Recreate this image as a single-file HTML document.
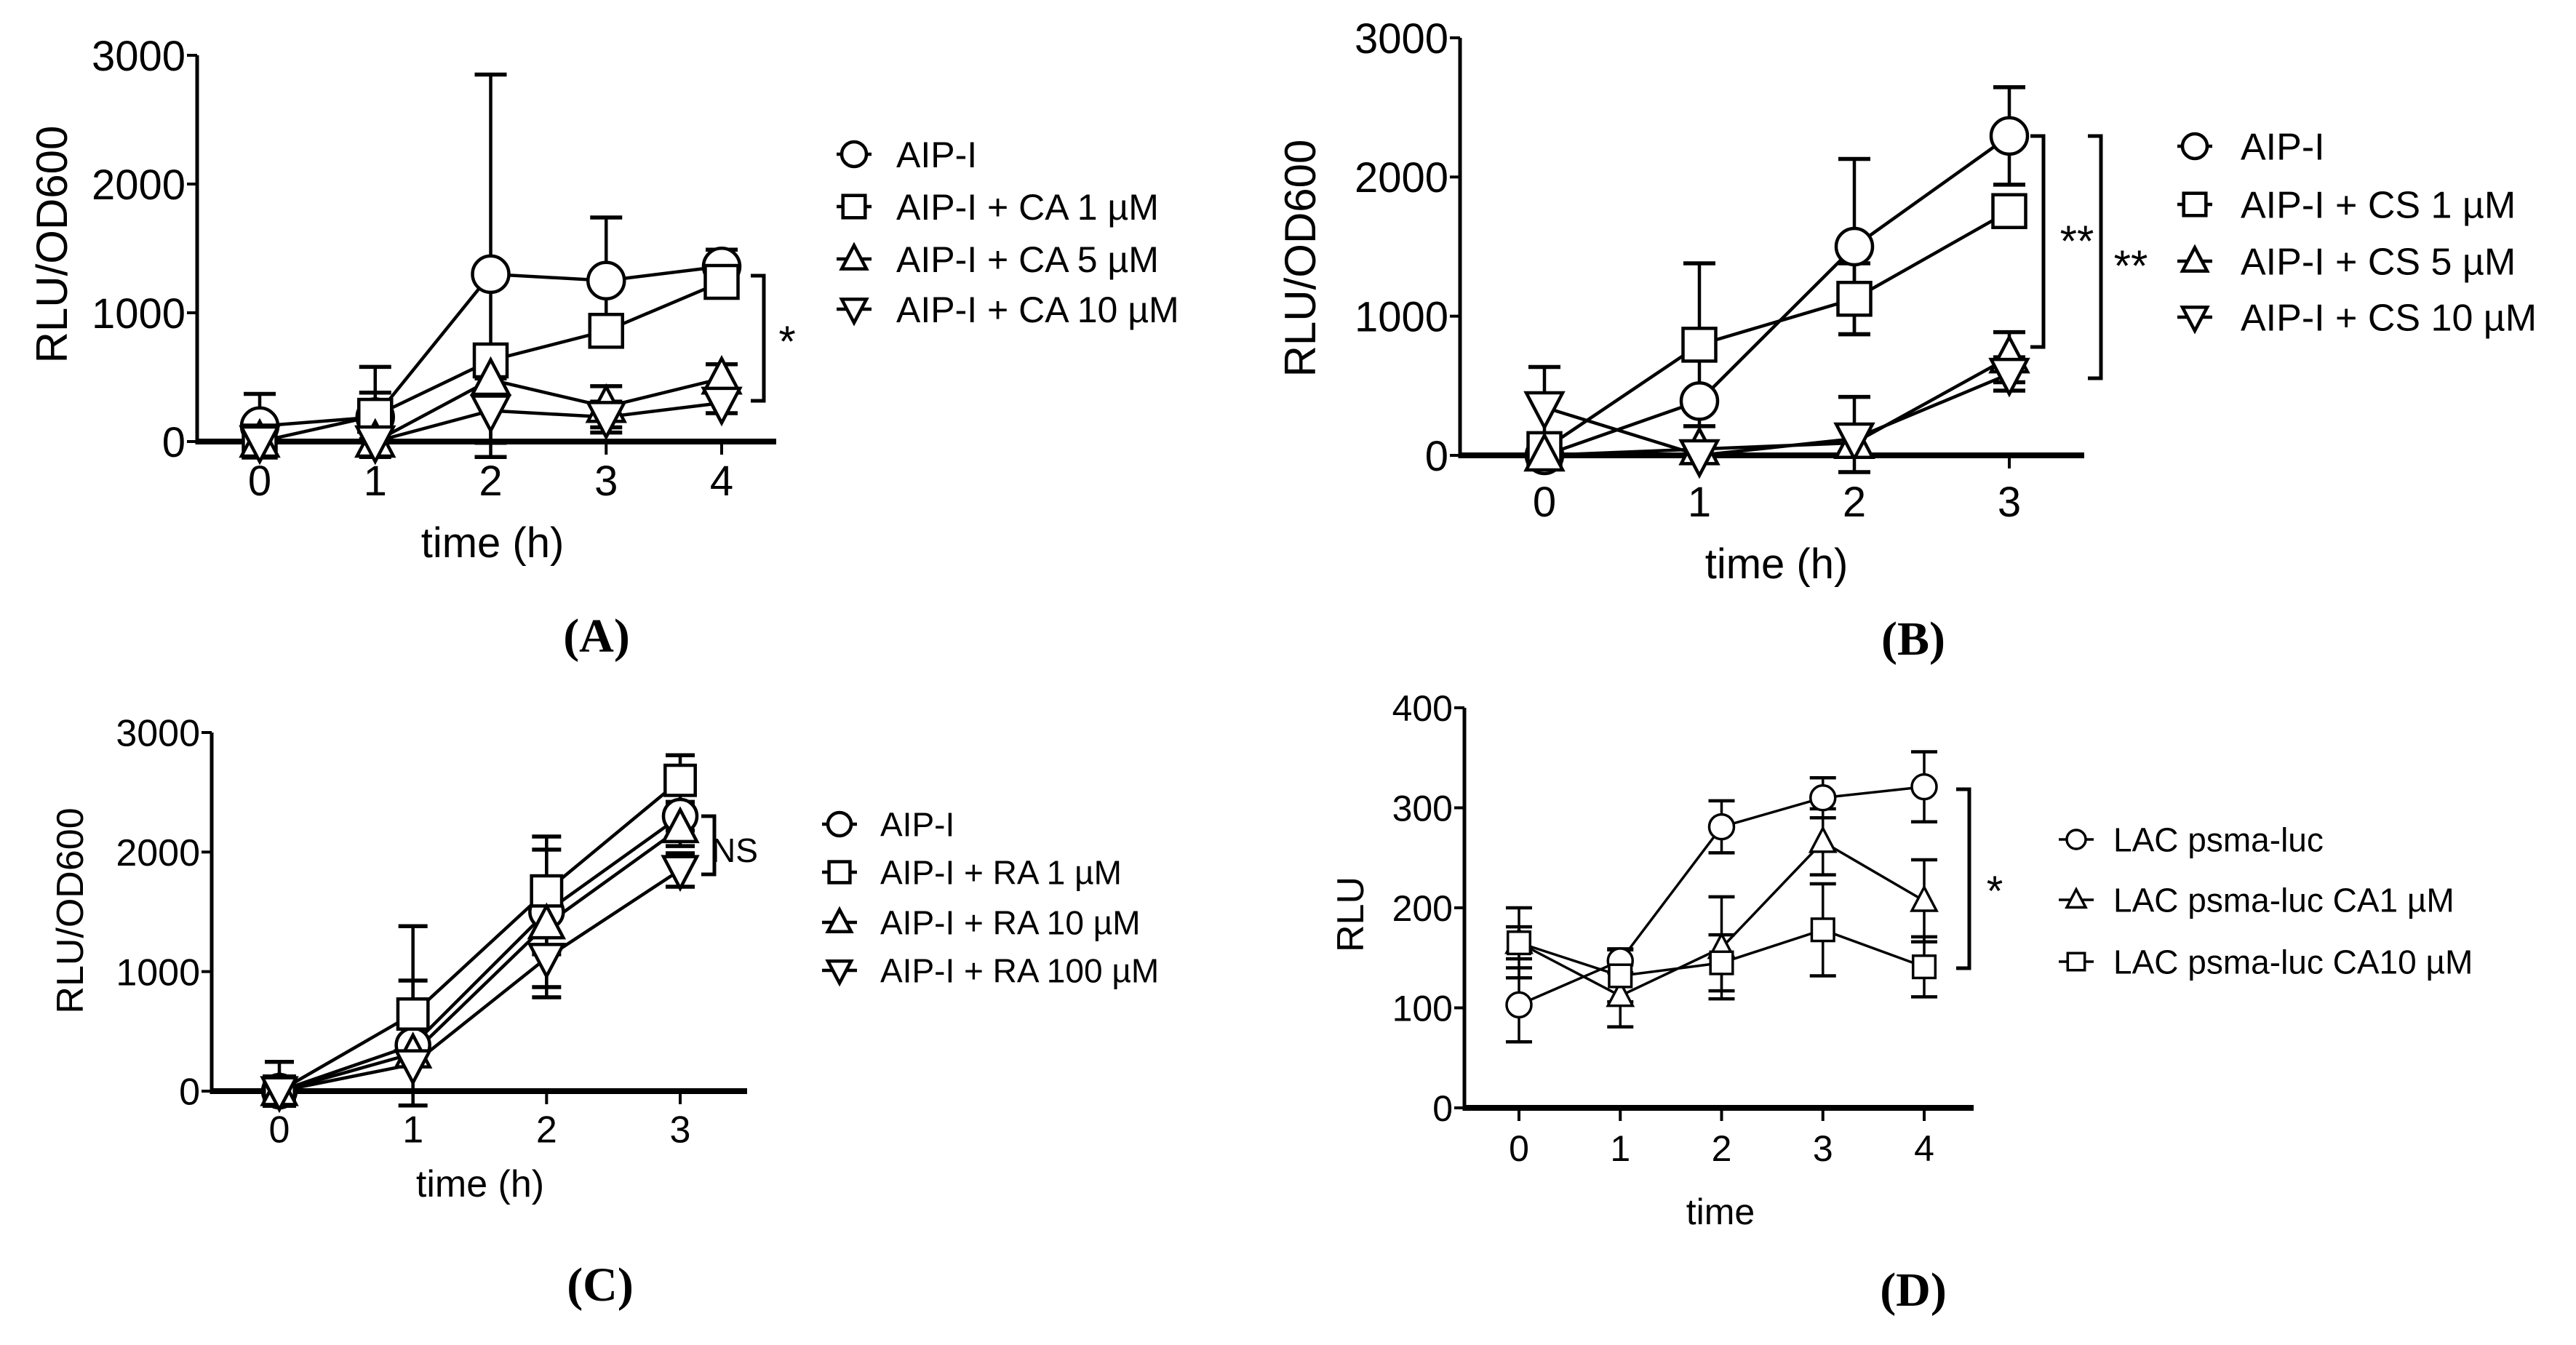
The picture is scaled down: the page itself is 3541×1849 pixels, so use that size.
<!DOCTYPE html>
<html><head><meta charset="utf-8"><style>
html,body{margin:0;padding:0;background:#fff;}
svg{display:block;}
text{font-family:"Liberation Sans",sans-serif;fill:#000;}
</style></head><body>
<svg id="fig" width="3541" height="1849" viewBox="0 0 3541 1849" xmlns="http://www.w3.org/2000/svg"></svg>
<script>
// Panel A data
const aTimes=[0,1,2,3,4];
const aYTicks=[0,1000,2000,3000];
const aNames=["AIP-I","AIP-I + CA 1 µM","AIP-I + CA 5 µM","AIP-I + CA 10 µM"];
const aCircle=[120,190,1300,1250,1360];
const aSquare=[0,200,630,860,1240];
const aTriUp=[0,0,480,270,490];
const aTriDown=[0,0,240,190,300];
const aErrCircle=[250,390,1550,490,130];
const aErrSquare=[0,180,120,120,60];
const aErrTriUp=[0,0,0,160,110];
const aErrTriDown=[0,0,250,120,80];
// Panel B data
const bTimes=[0,1,2,3];
const bYTicks=[0,1000,2000,3000];
const bNames=["AIP-I","AIP-I + CS 1 µM","AIP-I + CS 5 µM","AIP-I + CS 10 µM"];
const bCircle=[0,390,1500,2295];
const bSquare=[45,795,1125,1755];
const bTriUp=[0,45,90,705];
const bTriDown=[345,0,120,585];
const bErrCircle=[0,0,630,350];
const bErrSquare=[40,585,255,0];
const bErrTriUp=[0,0,330,180];
const bErrTriDown=[290,0,0,120];
// Panel C data
const cTimes=[0,1,2,3];
const cYTicks=[0,1000,2000,3000];
const cNames=["AIP-I","AIP-I + RA 1 µM","AIP-I + RA 10 µM","AIP-I + RA 100 µM"];
const cCircle=[0,385,1500,2300];
const cSquare=[0,645,1675,2600];
const cTriUp=[0,315,1395,2200];
const cTriDown=[0,225,1115,1850];
const cErrCircle=[0,995,630,120];
const cErrSquare=[245,280,345,210];
const cErrTriUp=[0,0,250,150];
const cErrTriDown=[0,0,330,140];
// Panel D data
const dTimes=[0,1,2,3,4];
const dYTicks=[0,100,200,300,400];
const dNames=["LAC psma-luc","LAC psma-luc CA1 µM","LAC psma-luc CA10 µM"];
const dCircle=[103,147,281,310,321];
const dTriUp=[165,112,160,266,207];
const dSquare=[165,132,145,178,141];
const dErrCircle=[37,12,26,20,35];
const dErrTriUp=[35,31,51,33,41];
const dErrSquare=[16,26,28,46,30];

const NS="http://www.w3.org/2000/svg";
const fig=document.getElementById('fig');
function mk(tag,attrs,parent){const e=document.createElementNS(NS,tag);for(const k in attrs)e.setAttribute(k,attrs[k]);(parent||fig).appendChild(e);return e;}

function marker(g,shape,x,y,r,sw){
  let e;
  if(shape==='circle'){e=mk('circle',{cx:x,cy:y,r:r,fill:'#fff',stroke:'#000','stroke-width':sw},g);}
  else if(shape==='square'){e=mk('rect',{x:x-r*0.9,y:y-r*0.9,width:r*1.8,height:r*1.8,fill:'#fff',stroke:'#000','stroke-width':sw},g);}
  else if(shape==='triup'){e=mk('polygon',{points:`${x},${y-r*1.1} ${x-r},${y+r*0.8} ${x+r},${y+r*0.8}`,fill:'#fff',stroke:'#000','stroke-width':sw},g);}
  else {e=mk('polygon',{points:`${x},${y+r*1.1} ${x-r},${y-r*0.8} ${x+r},${y-r*0.8}`,fill:'#fff',stroke:'#000','stroke-width':sw},g);}
  return e;
}

function panel(c){
  const g=mk('g',{});
  
  
  const sx=t=>c.x0+(t-c.times[0])/(c.times[c.times.length-1]-c.times[0])*(c.x1-c.x0);
  const sy=v=>c.y0-(v/c.ymax)*(c.y0-c.ytop);
  const ya=mk('line',{x1:c.ax,y1:c.ytop,x2:c.ax,y2:c.y0+4,stroke:'#000','stroke-width':5},g);
  
  
  c.yticks.forEach(v=>{
    mk('line',{x1:c.ax-14,y1:sy(v),x2:c.ax,y2:sy(v),stroke:'#000','stroke-width':4},g);
    const t=mk('text',{x:c.ax-16,y:sy(v)+c.fs*0.36,'text-anchor':'end','font-size':c.fs},g);
    t.textContent=v;
    
    
  });
  const xa=mk('line',{x1:c.ax,y1:c.y0,x2:c.xend,y2:c.y0,stroke:'#000','stroke-width':8},g);
  
  
  c.times.forEach(tv=>{
    mk('line',{x1:sx(tv),y1:c.y0,x2:sx(tv),y2:c.y0+18,stroke:'#000','stroke-width':4},g);
    const t=mk('text',{x:sx(tv),y:c.tickY+c.fs*0.36,'text-anchor':'middle','font-size':c.fs},g);
    t.textContent=tv;
    
    
  });
  const xt=mk('text',{x:c.xtX,y:c.xtY,'text-anchor':'middle','font-size':c.fs},g);
  xt.textContent=c.xtitle;
  
  
  const yt=mk('text',{x:0,y:0,'text-anchor':'middle','font-size':c.yfs,transform:`translate(${c.ytX},${c.ytY}) rotate(-90)`},g);
  yt.textContent=c.ytitle;
  
  
  c.series.forEach(s=>{
    const sg=mk('g',{},g);
    
    
    s.vals.forEach((v,i)=>{
      const e=s.err[i]; if(!e) return;
      const x=sx(c.times[i]);
      const lo=Math.max(v-e,c.ymin!==undefined?c.ymin:-1e9);
      mk('line',{x1:x,y1:sy(v+e),x2:x,y2:sy(lo),stroke:'#000','stroke-width':c.sw},sg);
      mk('line',{x1:x-c.cap,y1:sy(v+e),x2:x+c.cap,y2:sy(v+e),stroke:'#000','stroke-width':c.sw+1},sg);
      mk('line',{x1:x-c.cap,y1:sy(lo),x2:x+c.cap,y2:sy(lo),stroke:'#000','stroke-width':c.sw+1},sg);
    });
    const pts=s.vals.map((v,i)=>sx(c.times[i])+','+sy(v)).join(' ');
    const pl=mk('polyline',{points:pts,fill:'none',stroke:'#000','stroke-width':c.sw},sg);
    
    
  });
  c.series.forEach(s=>{
    s.vals.forEach((v,i)=>{
      const m=marker(g,s.shape,sx(c.times[i]),sy(v),c.r,c.sw);
      
      
    });
  });
  c.names.forEach((n,i)=>{
    const lg=mk('g',{},g);
    
    
    const y=c.legY[i];
    mk('line',{x1:c.legX-24,y1:y,x2:c.legX+24,y2:y,stroke:'#000','stroke-width':c.sw},lg);
    marker(lg,c.series[i].shape,c.legX,y,c.lr,c.sw);
    const t=mk('text',{x:c.legTX,y:y+c.lfs*0.36,'font-size':c.lfs},lg);
    t.textContent=n;
  });
  c.brackets.forEach(b=>{
    const bg=mk('g',{},g);
    
    
    mk('polyline',{points:`${b.x-18},${b.y1} ${b.x},${b.y1} ${b.x},${b.y2} ${b.x-18},${b.y2}`,fill:'none',stroke:'#000','stroke-width':5},bg);
    const t=mk('text',{x:b.tx,y:b.ty,'font-size':b.fs,'text-anchor':'middle'},bg);
    t.textContent=b.label;
  });
  const pl=mk('text',{x:c.plX,y:c.plY,'text-anchor':'middle','font-size':66,'font-weight':'bold',style:'font-family:"Liberation Serif",serif'},g);
  pl.textContent=c.plabel;
  
  
}

panel({id:'panel-a',times:aTimes,yticks:aYTicks,ymax:3000,ax:271,x0:357,x1:992,xend:1067,y0:607,ytop:76,
  fs:58,yfs:60,tickY:660,xtitle:'time (h)',xtX:677,xtY:766,ytitle:'RLU/OD600',ytX:92,ytY:336,
  sw:4.5,r:25,cap:22,ymin:-120,
  series:[{shape:'circle',vals:aCircle,err:aErrCircle},{shape:'square',vals:aSquare,err:aErrSquare},{shape:'triup',vals:aTriUp,err:aErrTriUp},{shape:'tridown',vals:aTriDown,err:aErrTriDown}],
  names:aNames,legX:1174,legTX:1232,legY:[212,284,356,425],lr:17,lfs:50,
  brackets:[{x:1050,y1:379,y2:551,tx:1082,ty:490,fs:60,label:'*'}],
  plX:820,plY:896,plabel:'(A)'});

panel({id:'panel-b',times:bTimes,yticks:bYTicks,ymax:3000,ax:2007,x0:2123,x1:2762,xend:2865,y0:626,ytop:52,
  fs:58,yfs:60,tickY:689,xtitle:'time (h)',xtX:2442,xtY:795,ytitle:'RLU/OD600',ytX:1808,ytY:355,
  sw:4.5,r:25,cap:22,ymin:-120,
  series:[{shape:'circle',vals:bCircle,err:bErrCircle},{shape:'square',vals:bSquare,err:bErrSquare},{shape:'triup',vals:bTriUp,err:bErrTriUp},{shape:'tridown',vals:bTriDown,err:bErrTriDown}],
  names:bNames,legX:3017,legTX:3080,legY:[201,281,359,436],lr:17,lfs:52,
  brackets:[{x:2809,y1:187,y2:477,tx:2855,ty:352,fs:60,label:'**'},{x:2888,y1:187,y2:520,tx:2929,ty:386,fs:60,label:'**'}],
  plX:2630,plY:900,plabel:'(B)'});

panel({id:'panel-c',times:cTimes,yticks:cYTicks,ymax:3000,ax:291,x0:384,x1:935,xend:1027,y0:1500,ytop:1007,
  fs:52,yfs:52,tickY:1552,xtitle:'time (h)',xtX:660,xtY:1645,ytitle:'RLU/OD600',ytX:114,ytY:1252,
  sw:4.5,r:23,cap:20,ymin:-120,
  series:[{shape:'circle',vals:cCircle,err:cErrCircle},{shape:'square',vals:cSquare,err:cErrSquare},{shape:'triup',vals:cTriUp,err:cErrTriUp},{shape:'tridown',vals:cTriDown,err:cErrTriDown}],
  names:cNames,legX:1154,legTX:1210,legY:[1133,1199,1268,1334],lr:16,lfs:46,
  brackets:[{x:982,y1:1122,y2:1202,tx:1010,ty:1185,fs:46,label:'NS'}],
  plX:825,plY:1788,plabel:'(C)'});

panel({id:'panel-d',times:dTimes,yticks:dYTicks,ymax:400,ax:2013,x0:2088,x1:2645,xend:2713,y0:1523,ytop:973,
  fs:50,yfs:52,tickY:1578,xtitle:'time',xtX:2365,xtY:1683,ytitle:'RLU',ytX:1874,ytY:1257,
  sw:3.5,r:17,cap:18,
  series:[{shape:'circle',vals:dCircle,err:dErrCircle},{shape:'triup',vals:dTriUp,err:dErrTriUp},{shape:'square',vals:dSquare,err:dErrSquare}],
  names:dNames,legX:2854,legTX:2905,legY:[1154,1237,1322],lr:13,lfs:46,
  brackets:[{x:2707,y1:1085,y2:1331,tx:2742,ty:1245,fs:58,label:'*'}],
  plX:2630,plY:1795,plabel:'(D)'});
</script>
</body></html>
